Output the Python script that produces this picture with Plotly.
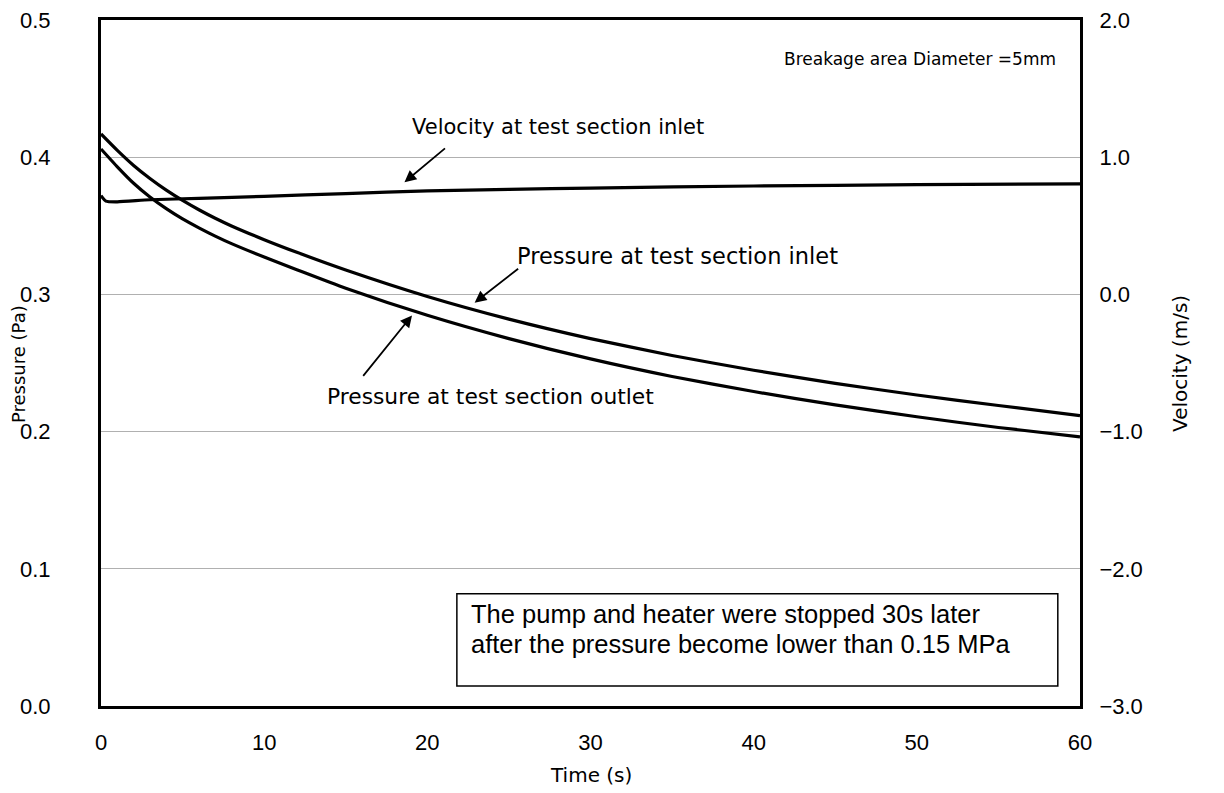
import plotly.graph_objects as go

# Time (s)
time_inlet = [0, 1, 2, 3, 4, 5, 6, 7, 8, 10, 12, 15, 20, 25, 30, 35, 40, 45, 50, 55, 60]
p_inlet = [0.417, 0.405, 0.394, 0.3845, 0.376, 0.3685, 0.3617, 0.3555, 0.3499, 0.3399, 0.3307,
           0.3178, 0.2985, 0.282, 0.2678, 0.2555, 0.2447, 0.2352, 0.2267, 0.219, 0.2117]
time_outlet = [0, 1, 2, 3, 4, 5, 6, 7, 8, 10, 12, 15, 20, 25, 30, 35, 40, 45, 50, 55, 60]
p_outlet = [0.406, 0.393, 0.381, 0.371, 0.3625, 0.355, 0.3485, 0.3425, 0.337, 0.3272, 0.318,
            0.3045, 0.2848, 0.2678, 0.253, 0.2402, 0.2292, 0.2195, 0.2108, 0.203, 0.1962]
time_vel = [0, 0.3, 1, 3, 6, 10, 15, 20, 25, 30, 40, 50, 60]
velocity = [0.72, 0.68, 0.675, 0.69, 0.70, 0.715, 0.735, 0.755, 0.765, 0.775, 0.79, 0.80, 0.805]

x_ticks = [0, 10, 20, 30, 40, 50, 60]
p_ticks = [0.0, 0.1, 0.2, 0.3, 0.4, 0.5]
v_ticks = [-3.0, -2.0, -1.0, 0.0, 1.0, 2.0]

LINE = dict(color="black", width=3.2)
tick_font = dict(family="Liberation Sans, Arial, sans-serif", size=22, color="black")
LF = "DejaVu Sans, sans-serif"
box_font = dict(family="Liberation Sans, Arial, sans-serif", size=25.5, color="black")

fig = go.Figure()
fig.add_trace(go.Scatter(x=time_inlet, y=p_inlet, mode="lines", line=LINE, line_shape="spline",
                         line_smoothing=0.6, showlegend=False))
fig.add_trace(go.Scatter(x=time_outlet, y=p_outlet, mode="lines", line=LINE, line_shape="spline",
                         line_smoothing=0.6, showlegend=False))
fig.add_trace(go.Scatter(x=time_vel, y=velocity, mode="lines", line=LINE, yaxis="y2",
                         line_shape="spline", line_smoothing=0.6, showlegend=False))

fig.update_layout(
    width=1216, height=785,
    margin=dict(l=93, r=144, t=12, b=87, autoexpand=False),
    paper_bgcolor="white", plot_bgcolor="white",
    xaxis=dict(range=[0, 60], tickvals=x_ticks, showgrid=False, zeroline=False,
               showline=True, linecolor="black", linewidth=3, mirror=True,
               ticks="", tickfont=tick_font, ticklabelstandoff=15, automargin=False,
               ticklabeloverflow="allow"),
    yaxis=dict(range=[0, 0.5], tickvals=p_ticks, tickformat=".1f", showgrid=True,
               gridcolor="#b0b0b0", gridwidth=1, zeroline=False,
               showline=True, linecolor="black", linewidth=3, mirror=True,
               ticks="", tickfont=tick_font, ticklabelstandoff=43, automargin=False,
               ticklabeloverflow="allow"),
    yaxis2=dict(range=[-3, 2], tickvals=v_ticks, tickformat=".1f", overlaying="y", side="right",
                showgrid=False, zeroline=False, showline=True, linecolor="black", linewidth=3,
                ticks="", tickfont=tick_font, ticklabelstandoff=12, automargin=False,
                ticklabeloverflow="allow"),
)

annotations = [
    dict(text="Time (s)", xref="paper", yref="paper", x=0.5005, y=-0.1006, yanchor="middle",
         showarrow=False, font=dict(family=LF, size=20, color="black")),
    dict(text="Pressure (Pa)", xref="paper", yref="paper", x=-0.0848, xanchor="center",
         y=0.4985, yanchor="middle",
         textangle=-90, showarrow=False, font=dict(family=LF, size=18, color="black")),
    dict(text="Velocity (m/s)", xref="paper", yref="paper", x=1.1021, xanchor="center", y=0.5,
         textangle=-90, showarrow=False, font=dict(family=LF, size=20, color="black")),
    dict(text="Breakage area Diameter =5mm", xref="x", yref="y", x=41.73, y=0.4715,
         xanchor="left", yanchor="middle", showarrow=False,
         font=dict(family=LF, size=17, color="black")),
    dict(text="Velocity at test section inlet", xref="x", yref="y", x=18.93, y=0.4219,
         xanchor="left", yanchor="middle", showarrow=False,
         font=dict(family=LF, size=21, color="black")),
    dict(text="Pressure at test section inlet", xref="x", yref="y", x=25.37, y=0.3277,
         xanchor="left", yanchor="middle", showarrow=False,
         font=dict(family=LF, size=22.5, color="black")),
    dict(text="Pressure at test section outlet", xref="x", yref="y", x=13.73, y=0.2255,
         xanchor="left", yanchor="middle", showarrow=False,
         font=dict(family=LF, size=21.8, color="black")),
    # arrows
    dict(text="", xref="x", yref="y", x=18.6, y=0.3818, ax=42, ay=-35, showarrow=True,
         arrowhead=2, arrowsize=1.3, arrowwidth=1.8, arrowcolor="black"),
    dict(text="", xref="x", yref="y", x=22.9, y=0.294, ax=45, ay=-35, showarrow=True,
         arrowhead=2, arrowsize=1.3, arrowwidth=1.8, arrowcolor="black"),
    dict(text="", xref="x", yref="y", x=19.06, y=0.2847, ax=-50, ay=62, showarrow=True,
         arrowhead=2, arrowsize=1.3, arrowwidth=1.8, arrowcolor="black"),
    # box text
    dict(text="The pump and heater were stopped 30s later", xref="x", yref="y",
         x=22.55, y=0.0672, xanchor="left", yanchor="middle", showarrow=False, font=box_font),
    dict(text="after the pressure become lower than 0.15 MPa", xref="x", yref="y",
         x=22.55, y=0.0452, xanchor="left", yanchor="middle", showarrow=False, font=box_font),
]
fig.update_layout(annotations=annotations)

fig.add_shape(type="rect", xref="x", yref="y", x0=21.81, x1=58.64, y0=0.0146, y1=0.0818,
              line=dict(color="black", width=1.5), fillcolor="white", layer="above")

fig.write_html("out.html")
